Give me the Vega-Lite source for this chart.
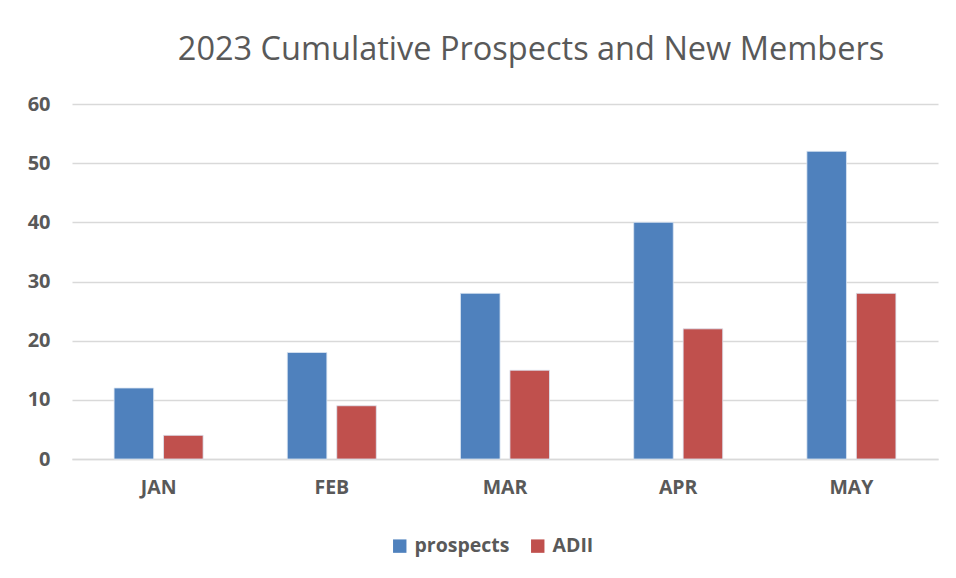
{
  "$schema": "https://vega.github.io/schema/vega-lite/v6.json",
  "autosize": {"type": "none"},
  "width": 866,
  "height": 355,
  "padding": {"left": 72, "top": 104, "right": 18, "bottom": 119},
  "background": "white",
  "title": {
    "text": "2023 Cumulative Prospects and New Members",
    "font": "Open Sans",
    "fontSize": 32.5,
    "fontWeight": "normal",
    "color": "#595959",
    "anchor": "middle",
    "dx": 26,
    "offset": 28
  },
  "data": {
    "values": [
      {"month": "JAN", "series": "prospects", "value": 12},
      {"month": "JAN", "series": "ADII", "value": 4},
      {"month": "FEB", "series": "prospects", "value": 18},
      {"month": "FEB", "series": "ADII", "value": 9},
      {"month": "MAR", "series": "prospects", "value": 28},
      {"month": "MAR", "series": "ADII", "value": 15},
      {"month": "APR", "series": "prospects", "value": 40},
      {"month": "APR", "series": "ADII", "value": 22},
      {"month": "MAY", "series": "prospects", "value": 52},
      {"month": "MAY", "series": "ADII", "value": 28}
    ]
  },
  "mark": {"type": "bar", "stroke": "#dce6f2", "strokeWidth": 0.8},
  "encoding": {
    "x": {
      "field": "month",
      "type": "nominal",
      "sort": ["JAN", "FEB", "MAR", "APR", "MAY"],
      "scale": {"paddingInner": 0.486, "paddingOuter": 0.243},
      "axis": {
        "title": null,
        "labelAngle": 0,
        "labelFont": "Open Sans",
        "labelFontSize": 19.5,
        "labelFontWeight": "bold",
        "labelColor": "#595959",
        "labelPadding": 19,
        "ticks": false,
        "domain": true,
        "domainColor": "#d9d9d9",
        "domainWidth": 1.5
      }
    },
    "xOffset": {
      "field": "series",
      "type": "nominal",
      "sort": ["prospects", "ADII"],
      "scale": {"paddingInner": 0.2, "paddingOuter": 0}
    },
    "y": {
      "field": "value",
      "type": "quantitative",
      "scale": {"domain": [0, 60], "nice": false},
      "axis": {
        "title": null,
        "values": [0, 10, 20, 30, 40, 50, 60],
        "labelFont": "Open Sans",
        "labelFontSize": 20,
        "labelFontWeight": "bold",
        "labelColor": "#595959",
        "labelPadding": 22,
        "ticks": false,
        "domain": false,
        "grid": true,
        "gridColor": "#d9d9d9",
        "gridWidth": 1.5
      }
    },
    "color": {
      "field": "series",
      "type": "nominal",
      "sort": ["prospects", "ADII"],
      "scale": {"domain": ["prospects", "ADII"], "range": ["#4f81bd", "#c0504d"]},
      "legend": {
        "title": null,
        "orient": "none",
        "direction": "horizontal",
        "legendX": 318,
        "legendY": 432,
        "symbolType": "square",
        "symbolSize": 180,
        "symbolStrokeWidth": 0,
        "labelFont": "Open Sans",
        "labelFontSize": 19.5,
        "labelFontWeight": "bold",
        "labelColor": "#595959",
        "labelOffset": 5,
        "columnPadding": 18
      }
    }
  },
  "config": {"view": {"stroke": null}}
}
